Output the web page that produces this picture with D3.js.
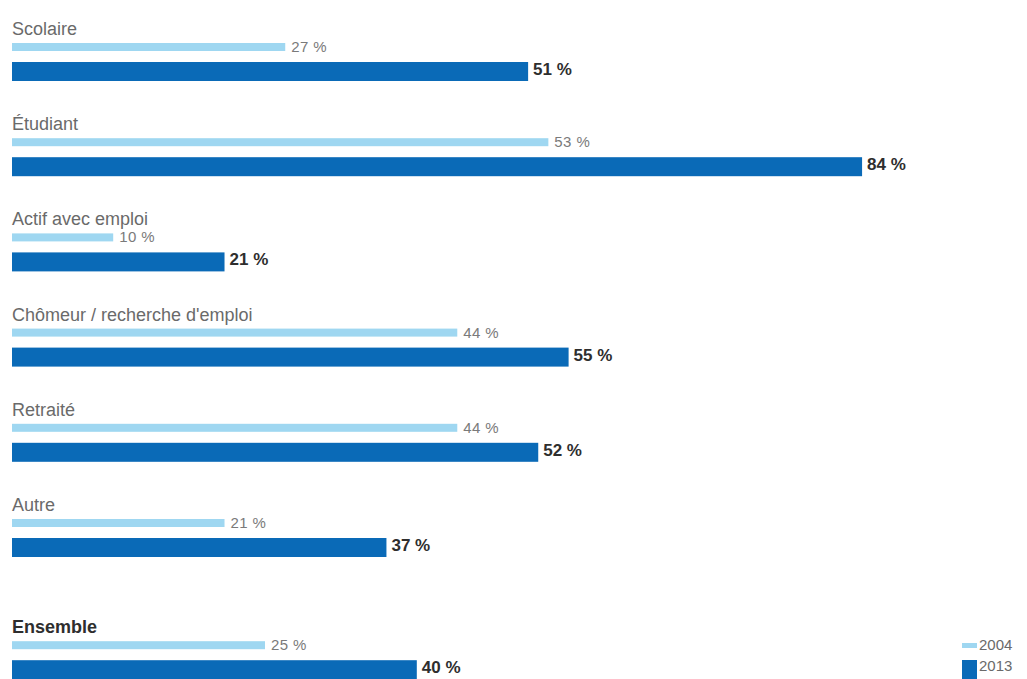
<!DOCTYPE html>
<html lang="fr">
<head>
<meta charset="utf-8">
<script src="https://cdn.jsdelivr.net/npm/d3@7"></script>
<style>
  html, body { margin: 0; padding: 0; background: #ffffff; }
  svg { display: block; font-family: "Liberation Sans", Arial, Helvetica, sans-serif; }
</style>
</head>
<body>
<svg id="chart" width="1027" height="679"></svg>
<script>
// Statuts d'occupation et part (%) en 2004 et en 2013
const categories = [
  "Scolaire",
  "Étudiant",
  "Actif avec emploi",
  "Chômeur / recherche d'emploi",
  "Retraité",
  "Autre",
  "Ensemble"
];
const values2004 = [27, 53, 10, 44, 44, 21, 25];
const values2013 = [51, 84, 21, 55, 52, 37, 40];
const years = ["2004", "2013"];
const unit = " %";

const colors = { "2004": "#9fd7f1", "2013": "#0a6ab7" };

const svg = d3.select("#chart");

// Horizontal value scale (percent)
const x = d3.scaleLinear().domain([0, 100]).range([12, 1024]);

// Vertical position of each group; the total row sits a little apart
const step = 95.2;
const totalGap = 27;
const groupY = d3.scaleLinear().domain([0, 1]).range([43, 43 + step]);
const topOf = i => groupY(i) + (categories[i] === "Ensemble" ? totalGap : 0);

const thinH = 8;      // 2004 bar thickness
const thickOff = 19;  // offset of the 2013 bar below the 2004 bar
const thickH = 19;    // 2013 bar thickness

const rows = categories.map((c, i) => ({
  name: c, v2004: values2004[i], v2013: values2013[i], i,
  total: c === "Ensemble"
}));

const g = svg.selectAll("g.row").data(rows).join("g").attr("class", "row");

// Category labels
g.append("text")
  .attr("x", x(0))
  .attr("y", d => topOf(d.i) - 8)
  .attr("font-size", 18)
  .attr("font-weight", d => d.total ? "bold" : "normal")
  .attr("fill", d => d.total ? "#2e2e2e" : "#6a6a6a")
  .text(d => d.name);

// 2004 bars
g.append("rect")
  .attr("x", x(0))
  .attr("y", d => topOf(d.i))
  .attr("width", d => x(d.v2004) - x(0))
  .attr("height", thinH)
  .attr("fill", colors["2004"]);

// 2013 bars
g.append("rect")
  .attr("x", x(0))
  .attr("y", d => topOf(d.i) + thickOff)
  .attr("width", d => x(d.v2013) - x(0))
  .attr("height", thickH)
  .attr("fill", colors["2013"]);

// 2004 values
g.append("text")
  .attr("x", d => x(d.v2004) + 6)
  .attr("y", d => topOf(d.i) + thinH / 2 + 1)
  .attr("dominant-baseline", "middle")
  .attr("font-size", 15)
  .attr("letter-spacing", 0.4)
  .attr("fill", "#7a7a7a")
  .text(d => d.v2004 + unit);

// 2013 values
g.append("text")
  .attr("x", d => x(d.v2013) + 5)
  .attr("y", d => topOf(d.i) + thickOff + thickH / 2 - 1)
  .attr("dominant-baseline", "middle")
  .attr("font-size", 17)
  .attr("font-weight", "bold")
  .attr("fill", "#2e2e2e")
  .text(d => d.v2013 + unit);

// Legend
const legend = svg.append("g").attr("transform", "translate(962,0)");
const legendItems = legend.selectAll("g").data(years).join("g");
legendItems.append("rect")
  .attr("x", 0)
  .attr("y", (d, i) => i === 0 ? 643 : 660)
  .attr("width", 15)
  .attr("height", (d, i) => i === 0 ? 5 : 19)
  .attr("fill", d => colors[d]);
legendItems.append("text")
  .attr("x", 17)
  .attr("y", (d, i) => i === 0 ? 646 : 667)
  .attr("dominant-baseline", "middle")
  .attr("font-size", 15)
  .attr("fill", "#6a6a6a")
  .text(d => d);
</script>
</body>
</html>
